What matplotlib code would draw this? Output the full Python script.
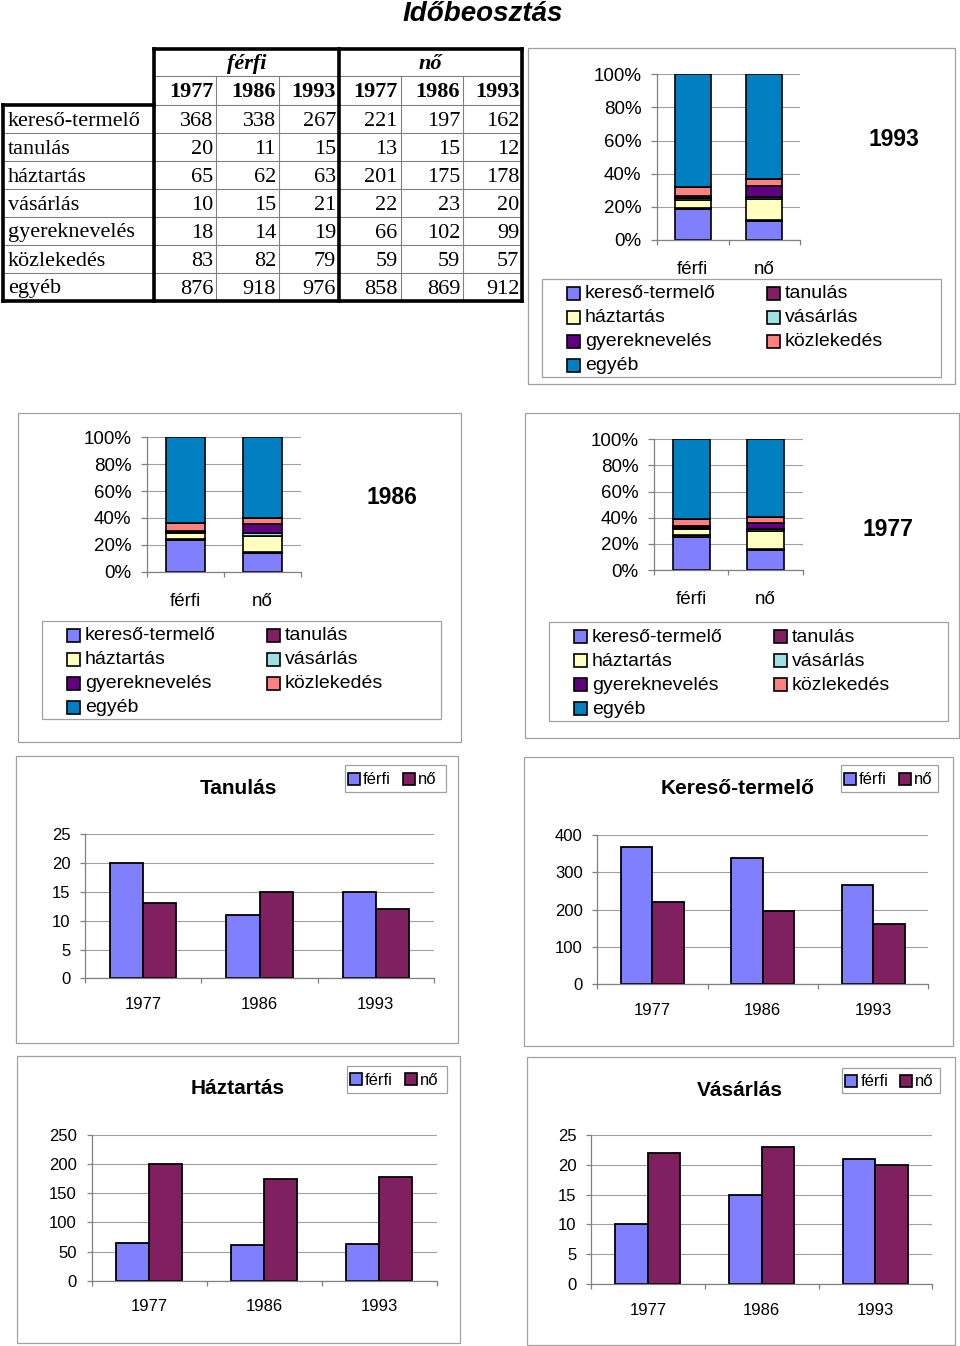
import matplotlib
matplotlib.use("Agg")
import matplotlib.pyplot as plt
import numpy as np
from matplotlib.patches import Rectangle
from matplotlib.ticker import PercentFormatter

W, H = 960, 1346

activities = ["kereső-termelő", "tanulás", "háztartás", "vásárlás",
              "gyereknevelés", "közlekedés", "egyéb"]
years = ["1977", "1986", "1993"]
sex_labels = ["férfi", "nő"]

ferfi_1977 = [368, 20, 65, 10, 18, 83, 876]
ferfi_1986 = [338, 11, 62, 15, 14, 82, 918]
ferfi_1993 = [267, 15, 63, 21, 19, 79, 976]
no_1977 = [221, 13, 201, 22, 66, 59, 858]
no_1986 = [197, 15, 175, 23, 102, 59, 869]
no_1993 = [162, 12, 178, 20, 99, 57, 912]

act_colors = ["#8080FF", "#802060", "#FFFFC0", "#A0E0E0", "#600080", "#FF8080", "#0080C0"]
sex_colors = ["#8080FF", "#802060"]

AXIS_GRAY = "#808080"
GRID_GRAY = "#A0A0A0"
FRAME_GRAY = "#A0A0A0"

plt.rcParams["font.family"] = ["Liberation Sans", "DejaVu Sans"]

fig = plt.figure(figsize=(W / 100, H / 100), dpi=100)
bg = fig.add_axes([0, 0, 1, 1], zorder=0)
bg.set_xlim(0, W)
bg.set_ylim(H, 0)
bg.axis("off")


def px_axes(x0, y0, x1, y1):
    return fig.add_axes([x0 / W, 1 - y1 / H, (x1 - x0) / W, (y1 - y0) / H], zorder=1)


def frame(x0, y0, x1, y1, color=FRAME_GRAY, lw=0.9):
    bg.add_patch(Rectangle((x0, y0), x1 - x0, y1 - y0, fill=False, edgecolor=color, lw=lw))


def style_axes(ax, ncat, tick_size, ypad, xpad, ylen):
    for s in ["top", "right"]:
        ax.spines[s].set_visible(False)
    for s in ["left", "bottom"]:
        ax.spines[s].set_color(AXIS_GRAY)
        ax.spines[s].set_linewidth(0.9)
    ax.set_xlim(-0.5, ncat - 0.5)
    ax.set_xticks(range(ncat))
    ax.set_xticks(np.arange(ncat + 1) - 0.5, minor=True)
    ax.tick_params(axis="x", which="major", length=0, pad=xpad, labelsize=tick_size)
    ax.tick_params(axis="x", which="minor", length=3.6, color=AXIS_GRAY, width=0.9)
    ax.tick_params(axis="y", length=ylen, color=AXIS_GRAY, width=0.9, pad=ypad, labelsize=tick_size)
    ax.yaxis.grid(True, color=GRID_GRAY, lw=0.8)
    ax.set_axisbelow(True)


# ---- title
bg.text(483, 14, "Időbeosztás", fontsize=20, fontweight="bold", fontstyle="italic",
        ha="center", va="center")

# ---- table
col_edges = [3, 153.8, 216.4, 278.9, 339.1, 400.6, 463.2, 522.3]
row_edges = [48.5, 75.5, 105, 133, 161, 189, 217, 245, 273, 301]
serif = ["Liberation Serif", "DejaVu Serif"]
thin = dict(color="#808080", lw=0.8)
thick = dict(color="black", lw=2.6, solid_capstyle="projecting")

bg.plot([col_edges[1], col_edges[-1]], [row_edges[1]] * 2, **thin)
bg.plot([col_edges[1], col_edges[-1]], [row_edges[2]] * 2, **thin)
for y in row_edges[3:-1]:
    bg.plot([col_edges[0], col_edges[-1]], [y, y], **thin)
for x in [col_edges[2], col_edges[3], col_edges[5], col_edges[6]]:
    bg.plot([x, x], [row_edges[1], row_edges[-1]], **thin)
bg.plot([col_edges[1], col_edges[-1]], [row_edges[0]] * 2, **thick)
for x in [col_edges[1], col_edges[4], col_edges[7]]:
    bg.plot([x, x], [row_edges[0], row_edges[-1]], **thick)
bg.plot([col_edges[0], col_edges[1]], [row_edges[2]] * 2, **thick)
bg.plot([col_edges[0], col_edges[0]], [row_edges[2], row_edges[-1]], **thick)
bg.plot([col_edges[0], col_edges[-1]], [row_edges[-1]] * 2, **thick)

hy = (row_edges[0] + row_edges[1]) / 2 + 2
bg.text((col_edges[1] + col_edges[4]) / 2, hy, sex_labels[0], family=serif, fontsize=16,
        fontweight="bold", fontstyle="italic", ha="center", va="center")
bg.text((col_edges[4] + col_edges[7]) / 2, hy, sex_labels[1], family=serif, fontsize=16,
        fontweight="bold", fontstyle="italic", ha="center", va="center")
yy = (row_edges[1] + row_edges[2]) / 2 + 1.5
for j in range(6):
    bg.text(col_edges[j + 2] - 3, yy, years[j % 3], family=serif, fontsize=16,
            fontweight="bold", ha="right", va="center")

table_cols = [ferfi_1977, ferfi_1986, ferfi_1993, no_1977, no_1986, no_1993]
for i, act in enumerate(activities):
    ry = (row_edges[i + 2] + row_edges[i + 3]) / 2 + 2
    bg.text(col_edges[0] + 5, ry, act, family=serif, fontsize=16, ha="left", va="center")
    for j, col in enumerate(table_cols):
        bg.text(col_edges[j + 2] - 3, ry, str(col[i]), family=serif, fontsize=16,
                ha="right", va="center")


# ---- stacked percentage charts
def stacked_chart(axbox, framebox, legbox, year_pos, year, fvals, nvals):
    frame(*framebox)
    ax = px_axes(*axbox)
    shares = [np.array(fvals) / sum(fvals), np.array(nvals) / sum(nvals)]
    bottoms = np.zeros(2)
    for i, act in enumerate(activities):
        h = np.array([shares[0][i], shares[1][i]])
        ax.bar([0, 1], h, 0.5, bottom=bottoms, color=act_colors[i],
               edgecolor="black", lw=1.2)
        bottoms = bottoms + h
    ax.set_ylim(0, 1)
    ax.set_yticks([0, 0.2, 0.4, 0.6, 0.8, 1.0])
    ax.yaxis.set_major_formatter(PercentFormatter(1.0, decimals=0))
    style_axes(ax, 2, 13.5, 7, 15.2, 4.3)
    ax.set_xticklabels(sex_labels)

    x0, y0, x1, y1 = legbox
    frame(x0, y0, x1, y1)
    for i, act in enumerate(activities):
        r, c = divmod(i, 2)
        mx = x0 + 25 + c * 200
        my = y0 + 14 + r * 24
        bg.add_patch(Rectangle((mx, my - 6.5), 13, 13, facecolor=act_colors[i],
                               edgecolor="black", lw=1.2))
        bg.text(mx + 18, my + 1, act, fontsize=14, ha="left", va="center")
    bg.text(year_pos[0], year_pos[1], year, fontsize=16.5, fontweight="bold",
            ha="center", va="center")


stacked_chart((657, 74.3, 800, 240), (528, 48, 955, 384), (542, 279, 941, 377),
              (894, 139), "1993", ferfi_1993, no_1993)
stacked_chart((147.3, 437.3, 300.7, 571.7), (17.7, 413, 461, 741.7), (41.7, 621, 441, 719),
              (392, 497), "1986", ferfi_1986, no_1986)
stacked_chart((654, 439.3, 802.7, 570), (525, 413, 959, 738), (549, 622, 948, 721),
              (888, 529), "1977", ferfi_1977, no_1977)


# ---- grouped bar charts per activity
def group_chart(axbox, framebox, legbox, title_pos, title, idx, ymax, ystep):
    frame(*framebox)
    ax = px_axes(*axbox)
    fvals = [ferfi_1977[idx], ferfi_1986[idx], ferfi_1993[idx]]
    nvals = [no_1977[idx], no_1986[idx], no_1993[idx]]
    x = np.arange(len(years))
    w = 1 / 3.5
    ax.bar(x - w / 2, fvals, w, color=sex_colors[0], edgecolor="black", lw=1.3)
    ax.bar(x + w / 2, nvals, w, color=sex_colors[1], edgecolor="black", lw=1.3)
    ax.set_ylim(0, ymax)
    ax.set_yticks(np.arange(0, ymax + 1, ystep))
    style_axes(ax, 3, 12, 7, 13.5, 3.6)
    ax.set_xticklabels(years)
    bg.text(title_pos[0], title_pos[1], title, fontsize=15, fontweight="bold",
            ha="center", va="center")

    x0, y0, x1, y1 = legbox
    frame(x0, y0, x1, y1)
    my = (y0 + y1) / 2
    for k, (lab, col) in enumerate(zip(sex_labels, sex_colors)):
        mx = x0 + 3 + k * 55
        bg.add_patch(Rectangle((mx, my - 6), 12, 12, facecolor=col, edgecolor="black", lw=1.2))
        bg.text(mx + 15, my + 1, lab, fontsize=12, ha="left", va="center")


group_chart((85, 834.3, 434, 978.3), (16, 756, 458, 1043), (345, 765, 446, 792),
            (238, 789), "Tanulás", 1, 25, 5)
group_chart((597.3, 835, 928.3, 984.3), (524, 757, 952.7, 1046), (841, 765, 938, 792),
            (738, 789), "Kereső-termelő", 0, 400, 100)
group_chart((91.7, 1135, 436.7, 1280.7), (16.7, 1056, 460, 1343), (346.7, 1066, 447, 1092.7),
            (237.7, 1089), "Háztartás", 2, 250, 50)
group_chart((591, 1135, 932.3, 1284), (527.3, 1057.3, 955, 1345), (842.3, 1067.7, 940, 1093.3),
            (740, 1091), "Vásárlás", 3, 25, 5)

fig.savefig("out.png", dpi=100)
